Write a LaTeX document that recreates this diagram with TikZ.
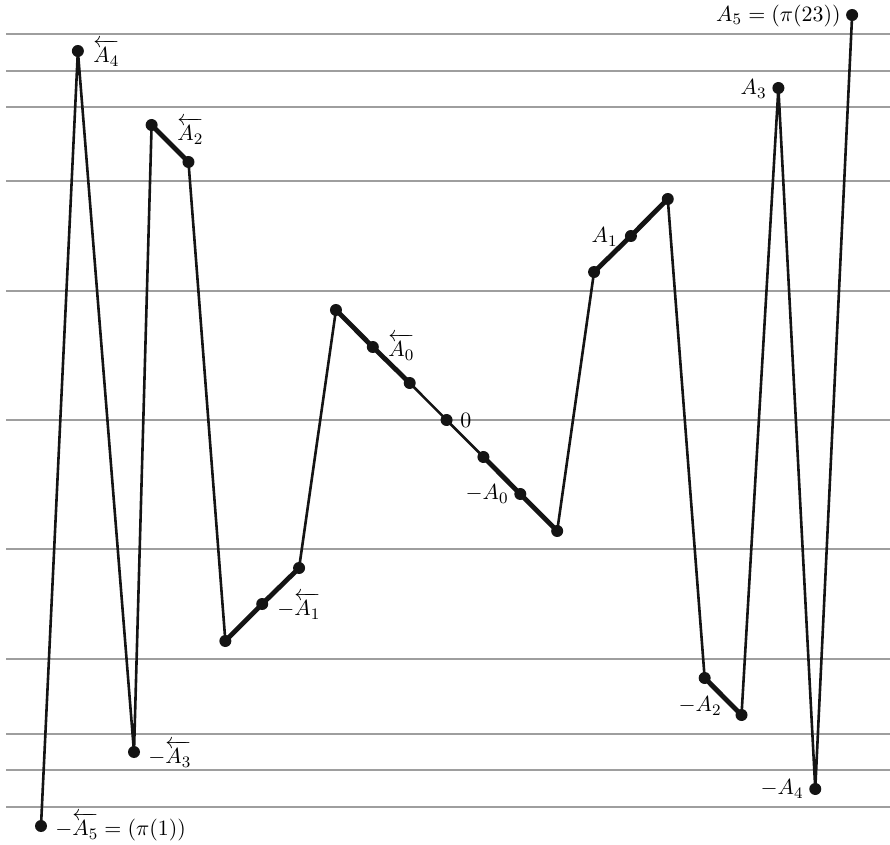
\documentclass[tikz,border=0pt]{standalone}
\usepackage{amsmath}
\begin{document}
\begin{tikzpicture}[x=0.5pt,y=-0.5pt,
  guide/.style={draw=black!38,line width=0.65pt},
  thin/.style={line width=1.3pt,black!92},
  thick/.style={line width=2.4pt,black!92},
  dot/.style={circle,fill=black!92,inner sep=0pt,minimum size=6pt},
  lab/.style={inner sep=0pt,font=\fontsize{10.8}{13}\selectfont}]
\useasboundingbox (0,0) rectangle (890,845);
% guide lines
\foreach \y/\n in {34/g1,71/g2,107/g3,181/g4,291/g5,420/g6,549/g7,659/g8,734/g9,770/g10,807/g11}{
  \coordinate (\n l) at (6,\y); \coordinate (\n r) at (890,\y);
  \draw[guide] (\n l) -- (\n r);
}
% points
\foreach \i/\yy in {1/826,2/51,3/752,4/125,5/162,6/641,7/604,8/568,9/310,10/347,11/383,12/420,13/457,14/494,15/531,16/272,17/236,18/199,19/678,20/715,21/88,22/789,23/15}{
  \coordinate (p\i) at ({41+36.87*(\i-1)},\yy);
}
\coordinate (p3) at (134,752);
% thin segments
\draw[thin,line join=round] (p1) -- (p2) -- (p3) -- (p4);
\draw[thin,line join=round] (p5) -- (p6);
\draw[thin,line join=round] (p8) -- (p9);
\draw[thin] (p11) -- (p12) -- (p13);
\draw[thin] (p15) -- (p16);
\draw[thin] (p18) -- (p19);
\draw[thin,line join=round] (p20) -- (p21) -- (p22) -- (p23);
% thick segments
\draw[thick] (p4) -- (p5);
\draw[thick] (p6) -- (p7) -- (p8);
\draw[thick] (p9) -- (p10) -- (p11);
\draw[thick] (p13) -- (p14) -- (p15);
\draw[thick] (p16) -- (p17) -- (p18);
\draw[thick] (p19) -- (p20);
% dots
\foreach \i in {1,...,23}{ \node[dot] (d\i) at (p\i) {}; }
% labels
\node[lab,anchor=west] (l2) at (93,53) {$\overleftarrow{A_4}$};
\node[lab,anchor=west] (l4) at (177,131) {$\overleftarrow{A_2}$};
\node[lab,anchor=west] (l10) at (388,347) {$\overleftarrow{A_0}$};
\node[lab,anchor=west] (l12) at (460,420) {$0$};
\node[lab,anchor=east] (l14) at (509,494) {$-A_0$};
\node[lab,anchor=east] (l17) at (618,237) {$A_1$};
\node[lab,anchor=east] (l21) at (767,89) {$A_3$};
\node[lab,anchor=east] (l23) at (841,16) {$A_5=(\pi(23))$};
\node[lab,anchor=west] (l3) at (148,754) {$-\overleftarrow{A_3}$};
\node[lab,anchor=west] (l1) at (55,827) {$-\overleftarrow{A_5}=(\pi(1))$};
\node[lab,anchor=west] (l7) at (277,606) {$-\overleftarrow{A_1}$};
\node[lab,anchor=east] (l20) at (722,706) {$-A_2$};
\node[lab,anchor=east] (l22) at (804,789) {$-A_4$};
\end{tikzpicture}
\end{document}
